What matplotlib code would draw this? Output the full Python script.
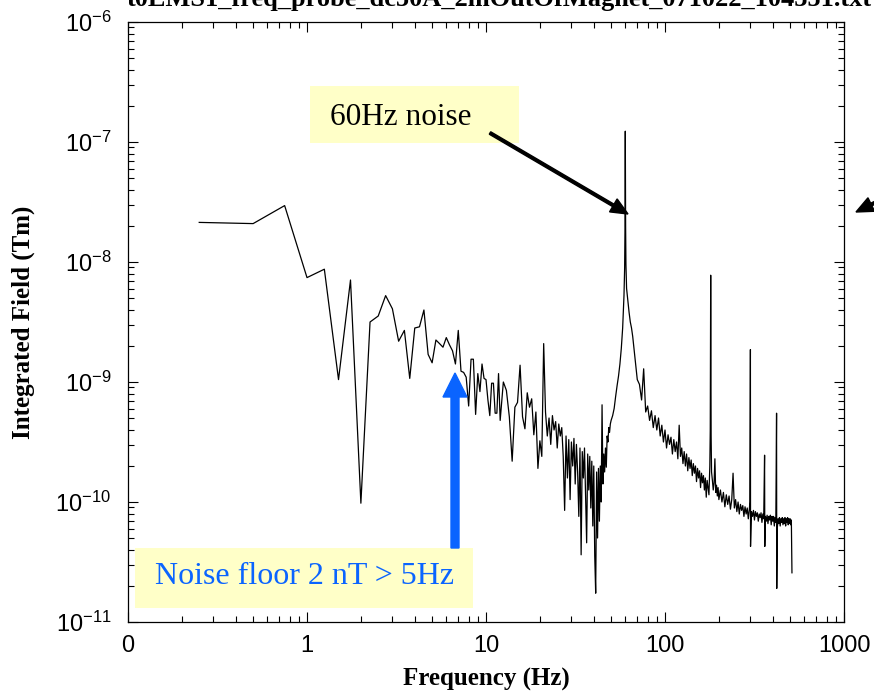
import numpy as np
import matplotlib
matplotlib.use("Agg")
import matplotlib.pyplot as plt
import matplotlib.patches as mpatches

plt.rcParams['mathtext.fontset'] = 'custom'
plt.rcParams['mathtext.rm'] = 'Liberation Sans'
plt.rcParams['mathtext.it'] = 'Liberation Sans:italic'
plt.rcParams['mathtext.bf'] = 'Liberation Sans:bold'

# ---------------- data (frequency in Hz, field as log10 of T*m) ----------------
freq_low = [0.25, 0.5, 0.75, 1.0, 1.25, 1.5, 1.75, 2.0, 2.25, 2.5, 2.75, 3.0, 3.25, 3.5,
            3.75, 4.0, 4.25, 4.5, 4.75, 5.0, 5.25, 5.5, 5.75, 6.0, 6.25, 6.5, 6.75, 7.0,
            7.25, 7.5, 7.75, 8.0, 8.25, 8.5, 8.75, 9.0, 9.25, 9.5, 9.75, 10.0, 10.25,
            10.5, 10.75, 11.0, 11.25, 11.5, 11.75]
logB_low = [-7.67, -7.68, -7.53, -8.13, -8.06, -8.98, -8.15, -10.01, -8.50, -8.45, -8.28,
            -8.39, -8.66, -8.57, -8.97, -8.55, -8.54, -8.40, -8.77, -8.84, -8.65, -8.68,
            -8.71, -8.63, -8.69, -8.74, -8.85, -8.57, -8.91, -8.92, -8.96, -9.20, -8.81,
            -8.81, -9.27, -8.93, -9.08, -8.85, -8.97, -8.98, -9.15, -9.28, -9.01, -9.01,
            -9.26, -9.26, -8.93]

freq_mid = [12.0, 12.5, 13.0, 13.5, 14.0, 14.5, 15.0, 15.5, 16.0, 16.5, 17.0, 17.5, 18.0,
            18.5, 19.0, 19.5, 20.0, 20.5, 21.0, 21.5, 22.0, 22.5, 23.0, 23.5, 24.0, 24.5,
            25.0, 25.5, 26.0, 26.5, 27.0, 27.5, 28.0, 28.5, 29.0, 29.5, 30.0, 30.5, 31.0,
            31.5, 32.0, 32.5, 33.0, 33.5, 34.0, 34.5, 35.0, 35.5, 36.0, 36.5, 37.0, 37.5,
            38.0, 38.5, 39.0, 39.5, 40.0, 40.5, 41.0, 41.5, 42.0, 42.5, 43.0, 43.5, 44.0,
            44.5, 45.0, 45.5, 46.0, 46.5, 47.0, 47.5, 48.0, 48.5, 49.0, 49.5, 50.0, 51.0,
            52.0, 53.0, 54.0, 55.0, 56.0, 57.0, 58.0, 58.5, 59.0, 59.5, 59.75, 60.0, 60.25,
            60.5, 61.0, 62.0, 63.0, 64.0, 65.0]
logB_mid = [-9.32, -9.00, -9.07, -9.29, -9.66, -9.21, -9.17, -8.86, -9.29, -9.39, -9.09,
            -9.21, -9.14, -9.44, -9.25, -9.72, -9.49, -9.62, -8.68, -9.25, -9.45, -9.30,
            -9.52, -9.28, -9.40, -9.33, -9.55, -9.35, -9.45, -9.38, -9.62, -10.07, -9.45,
            -9.80, -9.48, -9.98, -9.50, -9.70, -9.47, -9.85, -9.52, -9.75, -10.12, -9.55,
            -10.44, -9.58, -9.80, -9.55, -9.95, -10.34, -9.60, -9.90, -9.62, -10.05, -9.66,
            -10.20, -9.70, -10.45, -10.76, -9.75, -10.30, -9.72, -10.16, -9.70, -10.00,
            -9.19, -9.85, -9.60, -9.75, -9.55, -9.71, -9.45, -9.50, -9.38, -9.42, -9.35,
            -9.32, -9.28, -9.22, -9.12, -9.03, -8.95, -8.85, -8.72, -8.55, -8.42, -8.28,
            -8.05, -7.75, -6.91, -7.70, -8.02, -8.22, -8.32, -8.42, -8.50, -8.55]

freq_high = [66, 68, 70, 72, 74, 76, 78, 80, 82, 84, 86, 88, 90, 92, 94, 96, 98, 100, 102,
             104, 106, 108, 110, 112, 114, 116, 118, 120, 122, 124, 126, 128, 130, 132, 134,
             136, 138, 140, 142, 144, 146, 148, 150, 152, 154, 156, 158, 160, 162, 164, 166,
             168, 170, 172, 174, 176, 178, 179, 180, 181, 182, 184, 186, 188, 190, 192, 194,
             196, 198, 200]
logB_high = [-8.62, -8.80, -8.98, -9.02, -9.15, -8.89, -9.25, -9.20, -9.32, -9.24, -9.38,
             -9.28, -9.40, -9.30, -9.45, -9.36, -9.50, -9.40, -9.55, -9.44, -9.52, -9.46,
             -9.60, -9.48, -9.58, -9.50, -9.64, -9.36, -9.62, -9.55, -9.68, -9.58, -9.70,
             -9.60, -9.74, -9.63, -9.72, -9.65, -9.78, -9.68, -9.76, -9.70, -9.83, -9.72,
             -9.80, -9.74, -9.88, -9.76, -9.84, -9.78, -9.90, -9.80, -9.96, -9.82, -9.88,
             -9.94, -9.70, -9.40, -8.11, -9.45, -9.75, -9.82, -9.90, -9.84, -9.64, -9.92,
             -9.86, -9.95, -9.88, -9.98]

freq_tail = [204, 208, 212, 216, 220, 224, 228, 232, 236, 240, 244, 248, 252, 256, 260, 264,
             268, 272, 276, 280, 284, 288, 292, 296, 298, 299, 299.5, 300, 300.5, 304, 308,
             312, 316, 320, 324, 328, 332, 336, 340, 344, 348, 352, 356, 360, 361, 364, 368,
             372, 376, 380, 384, 388, 392, 396, 400, 404, 408, 412, 416, 420, 421, 424, 428,
             432, 436, 440, 444, 448, 452, 456, 460, 464, 468, 472, 476, 480, 484, 488, 492,
             496, 500, 504, 508, 512]
logB_tail = [-9.90, -10.00, -9.92, -10.04, -9.94, -10.02, -9.95, -10.06, -9.98, -9.76,
             -10.05, -9.98, -10.08, -10.00, -10.10, -10.02, -10.07, -10.03, -10.12, -10.04,
             -10.10, -10.05, -10.14, -10.06, -10.00, -9.50, -9.10, -8.73, -10.37, -10.08,
             -10.12, -10.07, -10.15, -10.08, -10.12, -10.09, -10.16, -10.10, -10.13, -10.09,
             -10.17, -10.10, -10.14, -9.61, -10.37, -10.12, -10.16, -10.11, -10.18, -10.12,
             -10.15, -10.11, -10.19, -10.12, -10.16, -10.12, -10.20, -10.13, -10.17, -9.26,
             -10.72, -10.22, -10.14, -10.18, -10.13, -10.20, -10.14, -10.17, -10.13, -10.19,
             -10.14, -10.18, -10.13, -10.20, -10.14, -10.17, -10.13, -10.19, -10.14, -10.18,
             -10.14, -10.19, -10.15, -10.59]

x_ticks = [0.1, 1, 10, 100, 1000]
x_ticklabels = ["0", "1", "10", "100", "1000"]

title_text = "t0EMS1_freq_probe_dc50A_2mOutOfMagnet_071022_104351.txt"
xlabel_text = "Frequency (Hz)"
ylabel_text = "Integrated Field (Tm)"
note_60hz = "60Hz noise"
note_floor = "Noise floor 2 nT > 5Hz"

# ---------------- figure ----------------
W, H = 874, 696
fig = plt.figure(figsize=(W / 100, H / 100), dpi=100)
ax = fig.add_axes([128 / W, 1 - 622 / H, (844 - 128) / W, 600 / H])

freq = np.array(freq_low + freq_mid + freq_high + freq_tail, dtype=float)
field = 10.0 ** np.array(logB_low + logB_mid + logB_high + logB_tail)
ax.plot(freq, field, color='black', lw=0.9)

ax.set_xscale('log')
ax.set_yscale('log')
ax.set_xlim(0.1, 1000)
ax.set_ylim(1e-11, 1e-6)
ax.set_xticks(x_ticks)
ax.set_xticklabels(x_ticklabels)
ax.tick_params(which='both', direction='in', top=True, right=True, width=0.8)
ax.tick_params(which='major', length=7)
ax.tick_params(which='minor', length=4)
ax.tick_params(axis='x', which='major', pad=9)
ax.tick_params(axis='y', which='major', pad=12)
for lab in ax.get_xticklabels() + ax.get_yticklabels():
    lab.set_fontfamily('Liberation Sans')
    lab.set_fontsize(17)
for sp in ax.spines.values():
    sp.set_linewidth(0.9)

serif_bold = dict(family='Liberation Serif', weight='bold')
fig.text(499 / W, 1 - 6 / H, title_text, ha='center', va='baseline', fontsize=19, **serif_bold)
fig.text(486 / W, 1 - 679 / H, xlabel_text, ha='center', va='center', fontsize=18, **serif_bold)
fig.text(23 / W, 1 - 322 / H, ylabel_text, ha='center', va='center', rotation=90,
         fontsize=18, **serif_bold)

# annotation boxes
box_col = '#FFFFC8'
fig.add_artist(mpatches.Rectangle((310 / W, 1 - 143 / H), 209 / W, 57 / H,
                                  transform=fig.transFigure, facecolor=box_col,
                                  edgecolor='none', zorder=3))
fig.text(330 / W, 1 - 125 / H, note_60hz, ha='left', va='baseline', fontsize=22.5,
         family='Liberation Serif', color='black', zorder=4)
fig.add_artist(mpatches.Rectangle((135 / W, 1 - 608 / H), 338 / W, 60 / H,
                                  transform=fig.transFigure, facecolor=box_col,
                                  edgecolor='none', zorder=3))
fig.text(155 / W, 1 - 584 / H, note_floor, ha='left', va='baseline', fontsize=23,
         family='Liberation Serif', color='#0A64FF', zorder=4)

# arrows (figure inches)
tr = fig.dpi_scale_trans
fig.add_artist(mpatches.FancyArrow(455 / 100, (H - 548) / 100, 0, (548 - 373) / 100,
                                   width=0.08, head_width=0.24, head_length=0.24,
                                   length_includes_head=True, color='#0A64FF',
                                   transform=tr, zorder=5))
fig.add_artist(mpatches.FancyArrow(490 / 100, (H - 133) / 100, (628 - 490) / 100,
                                   -(214 - 133) / 100, width=0.028, head_width=0.15,
                                   head_length=0.17, length_includes_head=True,
                                   color='black', transform=tr, zorder=5))
fig.add_artist(mpatches.FancyArrow(905 / 100, (H - 188) / 100, (856 - 905) / 100,
                                   -(212 - 188) / 100, width=0.028, head_width=0.15,
                                   head_length=0.17, length_includes_head=True,
                                   color='black', transform=tr, zorder=5))

fig.savefig('out.png', dpi=100)
